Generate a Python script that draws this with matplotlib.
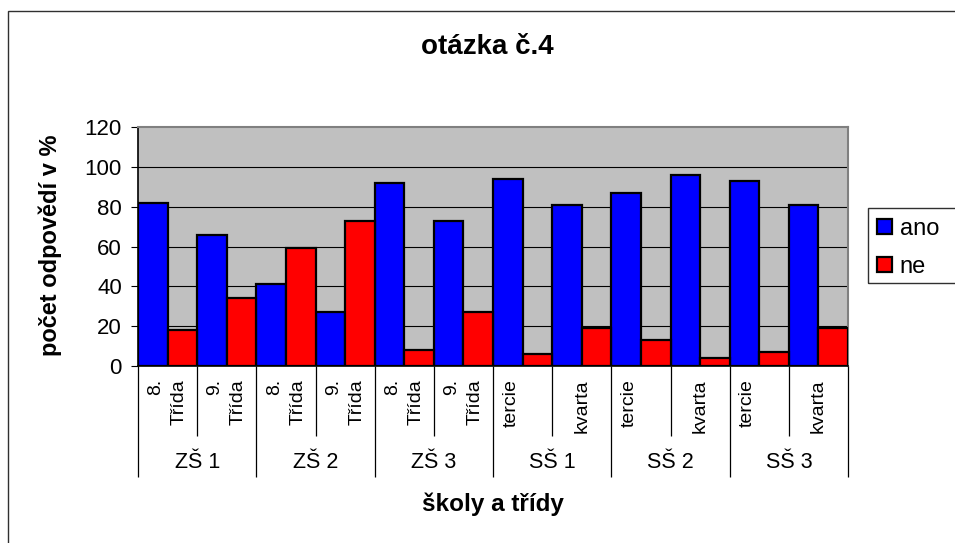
import numpy as np
import matplotlib
matplotlib.use("Agg")
import matplotlib.pyplot as plt
from matplotlib.patches import Rectangle

plt.rcParams['font.family'] = ['Liberation Sans', 'DejaVu Sans']

# ---- data ----
groups = ["ZŠ 1", "ZŠ 2", "ZŠ 3", "SŠ 1", "SŠ 2", "SŠ 3"]
subcats = ["8.\nTřída", "9.\nTřída", "8.\nTřída", "9.\nTřída", "8.\nTřída", "9.\nTřída",
           "tercie\n", "kvarta", "tercie\n", "kvarta", "tercie\n", "kvarta"]
ano = [82, 66, 41, 27, 92, 73, 94, 81, 87, 96, 93, 81]
ne = [18, 34, 59, 73, 8, 27, 6, 19, 13, 4, 7, 19]
yticks = [0, 20, 40, 60, 80, 100, 120]
title = "otázka č.4"
xlabel = "školy a třídy"
ylabel = "počet odpovědí v %"
series_names = ["ano", "ne"]

W, H = 955, 543
fig = plt.figure(figsize=(W / 100, H / 100), dpi=100)

def fx(x):
    return x / W

def fy(y):
    return 1 - y / H

# plot area in pixels
L, R, T, B = 138, 848, 127, 366
ax = fig.add_axes([fx(L), fy(B), (R - L) / W, (B - T) / H])
ax.set_facecolor("#C0C0C0")

x = np.arange(len(ano))
ax.bar(x - 0.25, ano, width=0.5, color="#0000FF", edgecolor="black", linewidth=1.6, zorder=3, label=series_names[0])
ax.bar(x + 0.25, ne, width=0.5, color="#FF0000", edgecolor="black", linewidth=1.6, zorder=3, label=series_names[1])

ax.set_xlim(-0.5, len(ano) - 0.5)
ax.set_ylim(0, 120)
ax.set_yticks(yticks)
ax.set_yticklabels([str(v) for v in yticks], fontsize=16)
ax.tick_params(axis="y", direction="out", length=4.7, width=0.8, pad=7, colors="black")

# gridlines
for v in yticks[1:-1]:
    ax.axhline(v, color="black", linewidth=0.8, zorder=1)

for s in ["top", "right"]:
    ax.spines[s].set_color("#808080")
    ax.spines[s].set_linewidth(1.5)
for s in ["left", "bottom"]:
    ax.spines[s].set_color("black")
    ax.spines[s].set_linewidth(1.2)
ax.spines["bottom"].set_zorder(5)

# category separators as ticks
ng = len(groups)
per = len(ano) // ng
group_bounds = [i * per - 0.5 for i in range(ng + 1)]
inner_bounds = [i * per + 0.5 for i in range(ng)]
ax.set_xticks(group_bounds)
ax.set_xticks(inner_bounds, minor=True)
ax.set_xticklabels([""] * len(group_bounds))
ax.tick_params(axis="x", which="major", direction="out", length=111 * 0.72, width=0.9, colors="black")
ax.tick_params(axis="x", which="minor", direction="out", length=70 * 0.72, width=0.9, colors="black")

trans = ax.get_xaxis_transform()
ppx = 1 / (B - T)  # axes fraction per pixel
for i, lab in enumerate(subcats):
    ax.text(i, -(379 - B) * ppx, lab, transform=trans,
            rotation=90, ha="center", va="top", multialignment="right",
            fontsize=14, linespacing=1.5, clip_on=False)
for g, name in enumerate(groups):
    ax.text(g * per + (per - 1) / 2, -(463 - B) * ppx, name, transform=trans,
            ha="center", va="center", fontsize=15.5, clip_on=False)

# titles
fig.text(fx(487), fy(47), title, ha="center", va="center", fontsize=20, fontweight="bold")
fig.text(fx(493), fy(504), xlabel, ha="center", va="center", fontsize=17.5, fontweight="bold")
fig.text(fx(50), fy(245), ylabel, ha="center", va="center", rotation=90, fontsize=17, fontweight="bold")

# outer chart border (extends beyond image on right/bottom)
fig.patches.append(Rectangle((fx(8), fy(H + 20)), 1.2, (H + 20 - 10.5) / H, transform=fig.transFigure,
                             fill=False, edgecolor="#303030", linewidth=1.0))

# legend frame (extends beyond image on the right)
fig.patches.append(Rectangle((fx(868), fy(283)), 0.3, (283 - 208) / H, transform=fig.transFigure,
                             fill=False, edgecolor="#303030", linewidth=1.0))
handles, labels = ax.get_legend_handles_labels()
fig.legend(handles, labels, loc="upper left", bbox_to_anchor=(fx(877), fy(218)),
           frameon=False, fontsize=17, borderpad=0, borderaxespad=0,
           handlelength=0.64, handleheight=0.58, handletextpad=0.32, labelspacing=0.68)

fig.savefig("out.png", dpi=100)
